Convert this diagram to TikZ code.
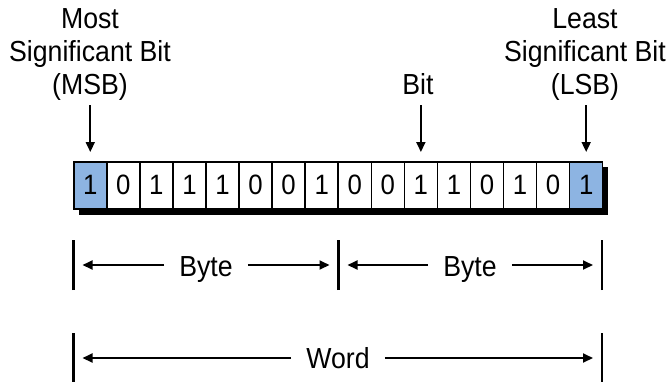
\documentclass[tikz,border=0pt]{standalone}
\usepackage{fontspec}
\setmainfont{Liberation Sans}[FakeStretch=0.92]
\usetikzlibrary{arrows.meta}
\definecolor{bitblue}{RGB}{141,180,226}
\begin{document}
\begin{tikzpicture}[x=1pt,y=-1pt,
  lbl/.style={font=\fontsize{29}{33}\selectfont, align=center, inner sep=0pt},
  cell/.style={draw=black, line width=1.5pt, minimum width=33.06pt, minimum height=47pt,
    inner sep=0pt, anchor=north west, font=\fontsize{28}{30}\selectfont, fill=white},
  msb/.style={cell, fill=bitblue},
  ptr/.style={line width=1.8pt, -{Triangle[length=10pt,width=9pt]}},
  bar/.style={line width=2.5pt}
]
\useasboundingbox (0,0) rectangle (668,381);
% shadow
\fill[black] (79,167) rectangle (608,215);
% cells
\foreach \b/\s [count=\i] in {1/msb,0/cell,1/cell,1/cell,1/cell,0/cell,0/cell,1/cell,0/cell,0/cell,1/cell,1/cell,0/cell,1/cell,0/cell,1/msb}
  \node[\s] (c\i) at ({73+(\i-1)*33.06},161) {\b};
% labels
\node[lbl, anchor=north] (msbl) at (90,8) {Most\\Significant Bit\\(MSB)};
\node[lbl, anchor=north] (lsbl) at (585,8) {Least\\Significant Bit\\(LSB)};
\node[lbl, anchor=base] (bitl) at (418,94.8) {Bit};
% pointers
\draw[ptr, shorten <=5pt, shorten >=9pt] (c1.north |- msbl.south) -- (c1.north);
\draw[ptr, shorten <=10pt, shorten >=9pt] (c11.north |- bitl.south) -- (c11.north);
\draw[ptr, shorten <=5pt, shorten >=9pt] (c16.north |- lsbl.south) -- (c16.north);
% byte dimension
\coordinate (bl) at (73.5,265);
\coordinate (bm) at (338.5,265);
\coordinate (br) at (602,265);
\draw[bar] ([yshift=-25pt]bl) -- ([yshift=25pt]bl);
\draw[bar] ([yshift=-25pt]bm) -- ([yshift=25pt]bm);
\draw[bar] ([yshift=-25pt]br) -- ([yshift=25pt]br);
\node[lbl, anchor=base] (byte1) at (206,276) {Byte};
\node[lbl, anchor=base] (byte2) at (470,276) {Byte};
\draw[ptr, shorten <=15pt, shorten >=9pt] (byte1.west |- bl) -- (bl);
\draw[ptr, shorten <=15pt, shorten >=9pt] (byte1.east |- bm) -- (bm);
\draw[ptr, shorten <=15pt, shorten >=9pt] (byte2.west |- bm) -- (bm);
\draw[ptr, shorten <=15pt, shorten >=9pt] (byte2.east |- br) -- (br);
% word dimension
\coordinate (wl) at (73.5,358);
\coordinate (wr) at (602,358);
\draw[bar] ([yshift=-25pt]wl) -- ([yshift=25pt]wl);
\draw[bar] ([yshift=-25pt]wr) -- ([yshift=25pt]wr);
\node[lbl, anchor=base] (word) at (338,368) {Word};
\draw[ptr, shorten <=15pt, shorten >=9pt] (word.west |- wl) -- (wl);
\draw[ptr, shorten <=15pt, shorten >=9pt] (word.east |- wr) -- (wr);
\end{tikzpicture}
\end{document}
